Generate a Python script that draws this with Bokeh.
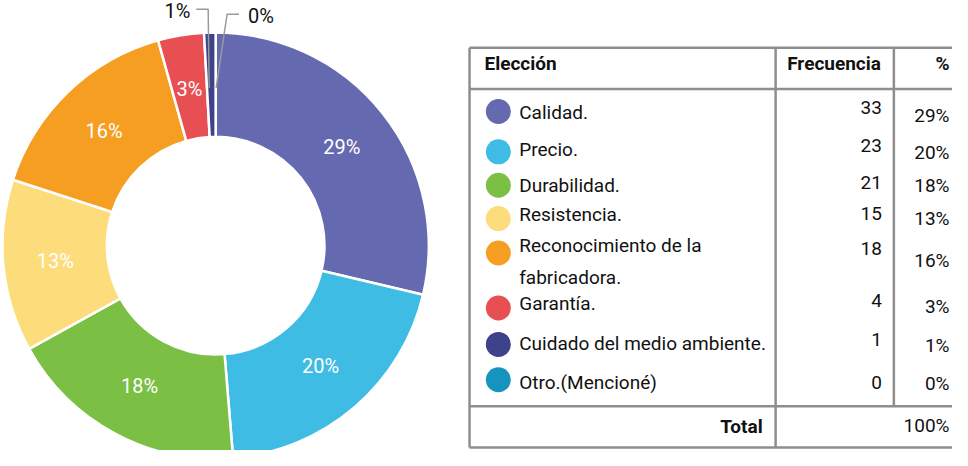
import math
from bokeh.plotting import figure
from bokeh.models import Range1d, ColumnDataSource
from bokeh.core.properties import value
from bokeh.embed import file_html
from bokeh.resources import INLINE

# ---- data ----
categories = ["Calidad.", "Precio.", "Durabilidad.", "Resistencia.",
              "Reconocimiento de la\nfabricadora.", "Garantía.",
              "Cuidado del medio ambiente.", "Otro.(Mencioné)"]
counts = [33, 23, 21, 15, 18, 4, 1, 0]
pct_labels = ["29%", "20%", "18%", "13%", "16%", "3%", "1%", "0%"]
colors = ["#656AB0", "#3EBCE3", "#7BBF44", "#FDDC7B", "#F59E21", "#E84F53", "#3E428A", "#1594BE"]
header = ["Elección", "Frecuencia", "%"]
total_label = "Total"
total_pct = "100%"

FONT = "Roboto"
p = figure(width=952, height=450, output_backend="svg", toolbar_location=None,
           x_range=Range1d(10, 968), y_range=Range1d(-466, -8), min_border=0)
p.axis.visible = False
p.grid.visible = False
p.outline_line_color = None
p.background_fill_color = "white"

# ---- donut ----
cx, cy = 226.5, -257.5
r_in, r_out = 109.5, 214.5
T = sum(counts)
cum = 0
starts, ends, mids, wcol = [], [], [], []
for c, col in zip(counts, colors):
    a0 = math.pi / 2 - 2 * math.pi * cum / T
    cum += c
    a1 = math.pi / 2 - 2 * math.pi * cum / T
    mids.append((a0 + a1) / 2)
    if c > 0:
        starts.append(a1)
        ends.append(a0)
        wcol.append(col)
src = ColumnDataSource(dict(start=starts, end=ends, color=wcol))
p.annular_wedge(x=cx, y=cy, inner_radius=r_in, outer_radius=r_out,
                start_angle="start", end_angle="end", fill_color="color",
                line_color="white", line_width=2.5, source=src)

r_lab = (r_in + r_out) / 2
inner_n = 6
p.text(x=[cx + r_lab * math.cos(m) for m in mids[:inner_n]],
       y=[cy + r_lab * math.sin(m) for m in mids[:inner_n]],
       text=pct_labels[:inner_n], text_color="white", text_font=value(FONT),
       text_font_size="20px", text_align="center", text_baseline="middle")

# outside labels with leader lines (small slices)
p.line(x=[207, 219, 220], y=[-17, -17, -97], line_color="#9a9a9a", line_width=1.5)
p.line(x=[250, 238, 227], y=[-22, -22, -97], line_color="#9a9a9a", line_width=1.5)
p.text(x=[188], y=[-19], text=[pct_labels[6]], text_color="#111111", text_font=value(FONT),
       text_font_size="20px", text_align="center", text_baseline="middle")
p.text(x=[272], y=[-24], text=[pct_labels[7]], text_color="#111111", text_font=value(FONT),
       text_font_size="20px", text_align="center", text_baseline="middle")

# ---- table ----
lc = "#8e8e8e"
xl, xr = 482, 975
yt, yh, ytot, yb = 56, 98, 421, 463
xd1, xd2 = 790, 909
p.segment(x0=[xl, xl, xl, xl, xl, xd1, xd2],
          y0=[-yt, -yt, -yb, -yh, -ytot, -yt, -yt],
          x1=[xr, xl, xr, xr, xr, xd1, xd2],
          y1=[-yt, -yb, -yb, -yh, -ytot, -yb, -ytot],
          line_color=lc, line_width=2.5)

FS = "19px"
# header
p.text(x=[497], y=[-72], text=[header[0]], text_font=value(FONT), text_font_style="bold",
       text_font_size=FS, text_align="left", text_baseline="middle", text_color="#111111")
p.text(x=[896, 965], y=[-72, -72], text=header[1:], text_font=value(FONT), text_font_style="bold",
       text_font_size=FS, text_align="right", text_baseline="middle", text_color="#111111")

# rows
name_y = [122, 160, 196, 226, 273.5, 316, 357, 397]
dot_y = [121, 162, 196, 230, 265, 321, 358, 394]
freq_y = [117, 156, 193, 225, 260, 313, 353, 397]
pct_y = [125, 163, 196, 230, 273, 319, 359, 398]

p.scatter(x=[511] * len(counts), y=[-v for v in dot_y], size=25, marker="circle",
          fill_color=colors, line_color=None)
p.text(x=[532] * len(counts), y=[-v for v in name_y], text=categories, text_font=value(FONT),
       text_font_size=FS, text_align="left", text_baseline="middle",
       text_color="#111111", text_line_height=1.4)
p.text(x=[897] * len(counts), y=[-v for v in freq_y], text=[str(c) for c in counts],
       text_font=value(FONT), text_font_size=FS, text_align="right",
       text_baseline="middle", text_color="#111111")
p.text(x=[965] * len(counts), y=[-v for v in pct_y], text=pct_labels,
       text_font=value(FONT), text_font_size=FS, text_align="right",
       text_baseline="middle", text_color="#111111")

# total row
p.text(x=[777], y=[-442], text=[total_label], text_font=value(FONT), text_font_style="bold",
       text_font_size=FS, text_align="right", text_baseline="middle", text_color="#111111")
p.text(x=[965], y=[-441], text=[total_pct], text_font=value(FONT),
       text_font_size=FS, text_align="right", text_baseline="middle", text_color="#111111")

open("out.html", "w").write(file_html(p, INLINE))
